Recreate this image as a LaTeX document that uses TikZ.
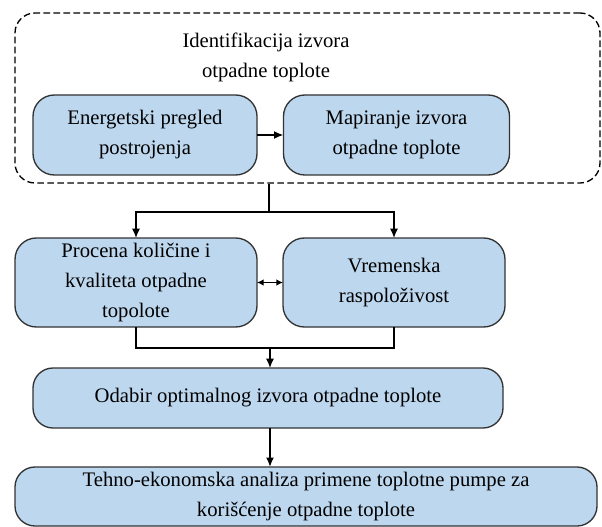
\documentclass[tikz,border=0pt]{standalone}
\usepackage{fontspec}
\setmainfont{Liberation Serif}
\usepackage{xcolor}
\usetikzlibrary{shapes,arrows.meta,positioning,calc}

\definecolor{boxblue}{HTML}{BDD7EE}

\begin{document}
\begin{tikzpicture}[x=0.75pt, y=-0.75pt,
    font=\rmfamily\fontsize{15.5}{22.5}\selectfont,
    stage/.style={draw=black!80, fill=boxblue, line width=1pt, rounded corners=16pt,
        align=center, inner sep=0pt, outer sep=0pt},
    arrow/.style={-{Latex[length=7pt,width=6pt]}, line width=1pt}]
    \useasboundingbox (0,0) rectangle (602,527);

    % Identification group
    \node[draw, dash pattern=on 5pt off 2.5pt, line width=1pt, rounded corners=15pt, inner sep=0pt,
        minimum width=438.75pt, minimum height=127.5pt] (ident) at (307.5,98) {};
    \node[align=center] (title) at (266,57) {Identifikacija izvora\\otpadne toplote};
    \node[stage, minimum width=168pt, minimum height=60pt] (ep) at (145,135)
        {Energetski pregled\\postrojenja};
    \node[stage, minimum width=169.5pt, minimum height=60pt] (mi) at (396.5,135)
        {Mapiranje izvora\\otpadne toplote};

    % Assessment
    \node[stage, minimum width=181.5pt, minimum height=66.75pt] (pk) at (136,282.5)
        {Procena količine i\\kvaliteta otpadne\\topolote};
    \node[stage, minimum width=166.5pt, minimum height=66.75pt] (vr) at (394,282.5)
        {Vremenska\\raspoloživost};

    % Selection and analysis
    \node[stage, rounded corners=15pt, minimum width=352.5pt, minimum height=45pt] (od) at (268,398)
        {Odabir optimalnog izvora otpadne toplote};
    \node[stage, rounded corners=15pt, minimum width=436.5pt, minimum height=44.25pt] (te) at (306,496.5)
        {Tehno-ekonomska analiza primene toplotne pumpe za\\korišćenje otpadne toplote};

    % Connectors
    \draw[arrow, line width=1.8pt] (ep) -- (mi);
    \coordinate (split) at (269,212);
    \draw[line width=1pt] (split |- ident.south) -- (split);
    \draw[arrow] (split) -| (pk.north);
    \draw[arrow] (split) -| (vr.north);
    \draw[{Latex[length=5pt,width=5pt]}-{Latex[length=5pt,width=5pt]}, line width=1pt] (pk) -- (vr);
    \coordinate (merge) at (270,348);
    \draw[line width=1pt] (pk.south) |- (merge) -| (vr.south);
    \draw[arrow] (merge) -- (merge |- od.north);
    \draw[arrow, line width=1.8pt] (od.south -| merge) -- (merge |- te.north);
\end{tikzpicture}
\end{document}
